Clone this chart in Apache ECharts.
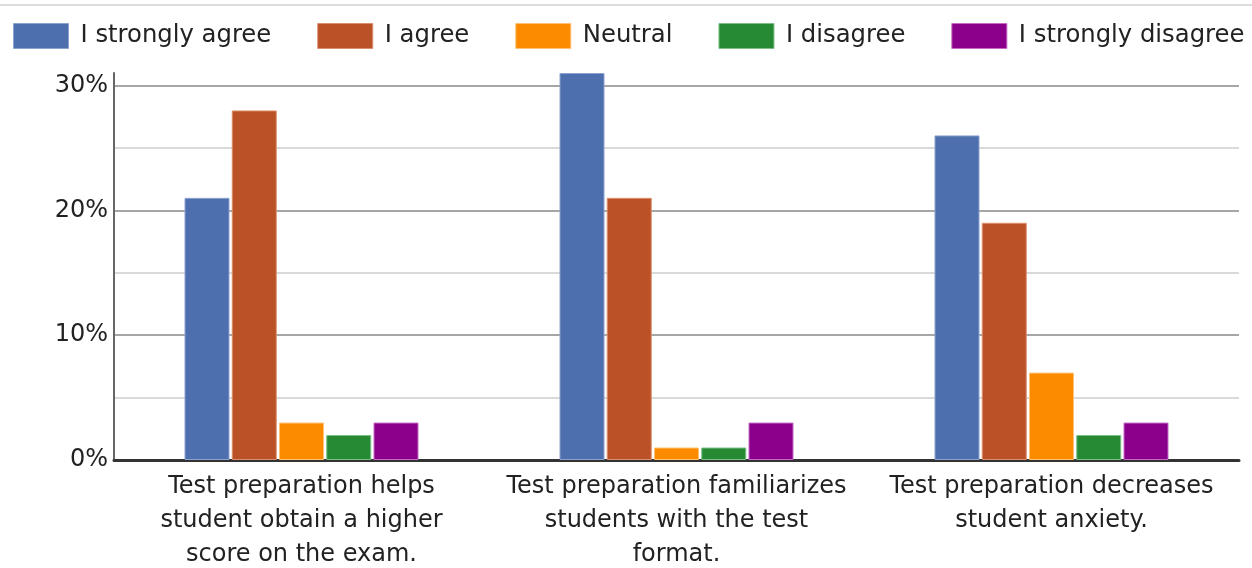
<!DOCTYPE html>
<html>
<head>
<meta charset="utf-8">
<style>
  html, body { margin: 0; padding: 0; background: #fff; }
  #chart { width: 1252px; height: 568px; }
</style>
<script src="https://cdn.jsdelivr.net/npm/echarts@6/dist/echarts.min.js"></script>
</head>
<body>
<div id="chart"></div>
<script>
// Survey statements (x-axis categories)
const categories = [
  'Test preparation helps\nstudent obtain a higher\nscore on the exam.',
  'Test preparation familiarizes\nstudents with the test\nformat.',
  'Test preparation decreases\nstudent anxiety.'
];

// Response share per statement, in percent
const stronglyAgree    = [21, 31, 26];
const agree            = [28, 21, 19];
const neutral          = [3, 1, 7];
const disagree         = [2, 1, 2];
const stronglyDisagree = [3, 3, 3];

const seriesNames = ['I strongly agree', 'I agree', 'Neutral', 'I disagree', 'I strongly disagree'];
const seriesData  = [stronglyAgree, agree, neutral, disagree, stronglyDisagree];
const colors      = ['#4d6fad', '#bb5127', '#fd8b00', '#258a33', '#8a008a'];
const borders     = ['#8da3cf', '#dc8f6c', '#ffc173', '#7cc087', '#c46ac4'];

const yTicks = [0, 10, 20, 30];

const FONT = '"DejaVu Sans", "Liberation Sans", Arial, sans-serif';

const chart = echarts.init(document.getElementById('chart'), null, { renderer: 'canvas' });

chart.setOption({
  animation: false,
  color: colors,
  textStyle: { fontFamily: FONT },
  graphic: [{
    type: 'line',
    shape: { x1: 0, y1: 5, x2: 1252, y2: 5 },
    style: { stroke: '#dcdcdc', lineWidth: 2 }
  }],
  legend: {
    top: 23,
    left: 13,
    width: 1400,
    padding: 0,
    itemWidth: 55,
    itemHeight: 25,
    itemGap: 46,
    icon: 'rect',
    textStyle: { fontFamily: FONT, fontSize: 24.3, color: '#222', padding: [0, 0, 0, 7] },
    data: seriesNames.map((n, i) => ({ name: n, itemStyle: { borderColor: borders[i], borderWidth: 1 } }))
  },
  grid: { left: 114, right: 13, top: 73, bottom: 108, outerBoundsMode: 'none', containLabel: false },
  xAxis: {
    type: 'category',
    data: categories,
    axisLine: { lineStyle: { color: '#333', width: 3 } },
    axisTick: { show: false },
    axisLabel: {
      interval: 0,
      margin: 10,
      fontFamily: FONT,
      fontSize: 24,
      lineHeight: 34,
      color: '#222',
      align: 'center'
    }
  },
  yAxis: {
    type: 'value',
    min: 0,
    max: 31,
    interval: 5,
    axisLine: { show: true, lineStyle: { color: '#666', width: 2 } },
    axisTick: { show: false },
    axisLabel: {
      margin: 6,
      padding: [4, 0, 0, 0],
      fontFamily: FONT,
      fontSize: 24,
      color: '#222',
      showMaxLabel: false,
      formatter: v => (yTicks.indexOf(v) >= 0 ? v + '%' : '')
    },
    splitLine: {
      show: true,
      lineStyle: {
        width: 2,
        color: ['#a6a6a6', '#d9d9d9', '#a6a6a6', '#d9d9d9', '#a6a6a6', '#d9d9d9', '#a6a6a6', 'rgba(0,0,0,0)']
      }
    }
  },
  series: seriesNames.map((name, i) => ({
    name,
    type: 'bar',
    data: seriesData[i],
    barWidth: 45,
    barGap: '5%',
    itemStyle: { color: colors[i], borderColor: borders[i], borderWidth: 1 }
  }))
});
</script>
</body>
</html>
